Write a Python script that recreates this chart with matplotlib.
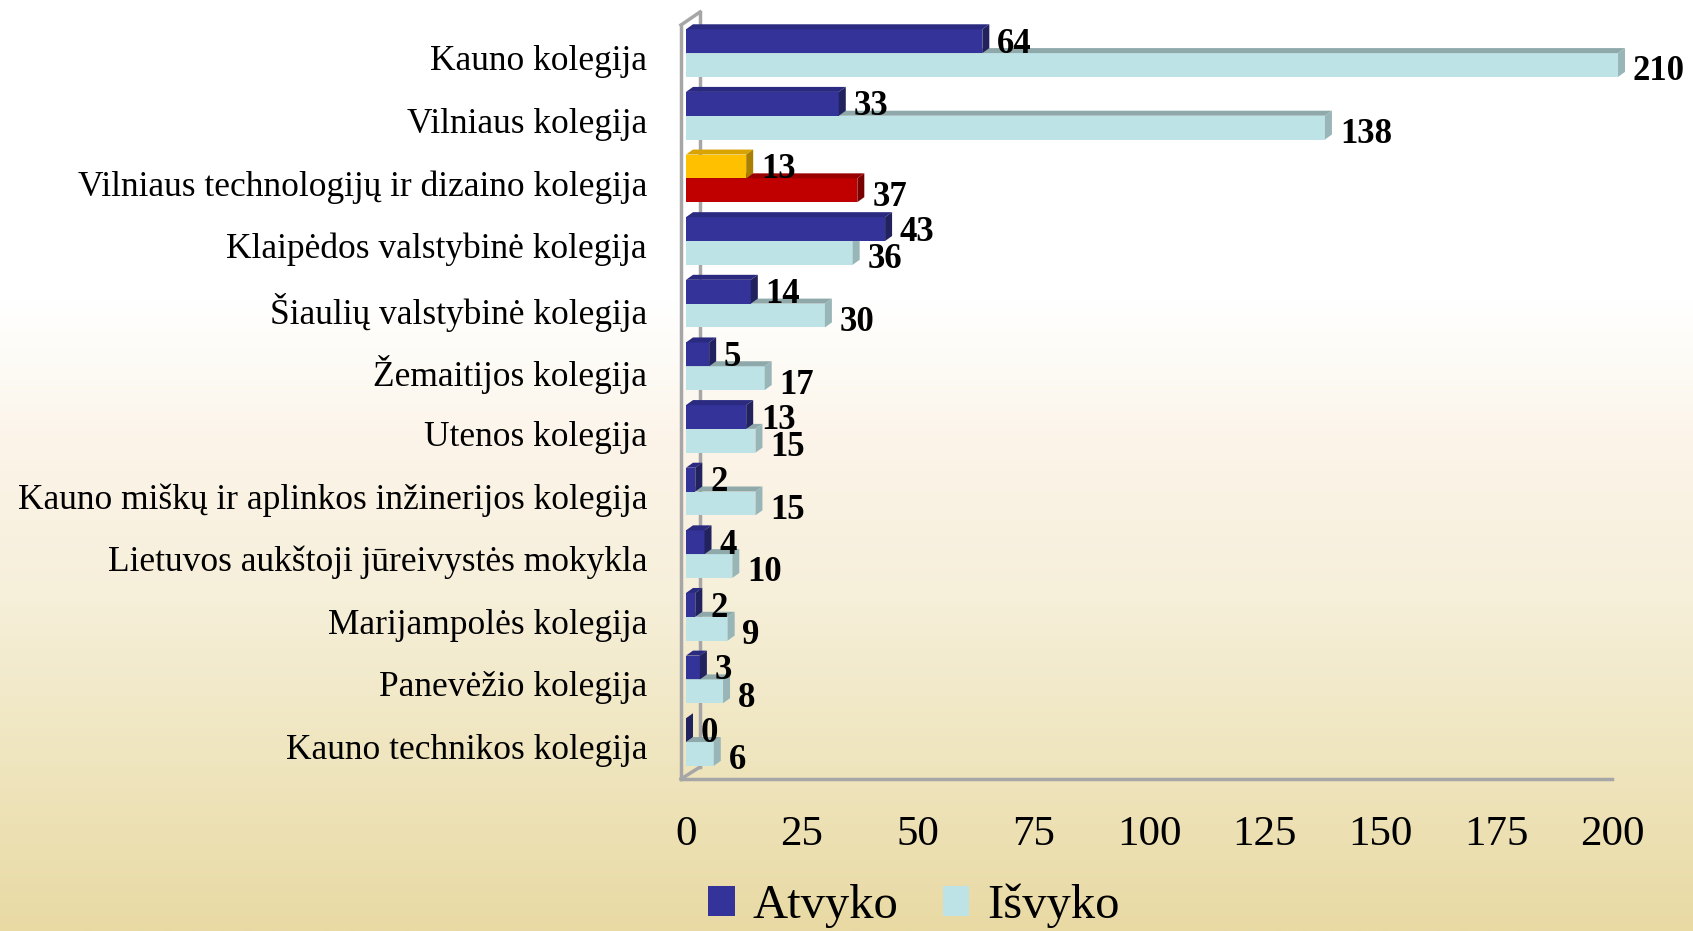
import numpy as np
import matplotlib.pyplot as plt
import matplotlib.transforms as mtransforms
from matplotlib.patches import Polygon, Patch

plt.rcParams['font.family'] = ['Liberation Serif', 'DejaVu Serif']

# Duomenys (iš viršaus į apačią)
kolegijos = [
    "Kauno kolegija",
    "Vilniaus kolegija",
    "Vilniaus technologijų ir dizaino kolegija",
    "Klaipėdos valstybinė kolegija",
    "Šiaulių valstybinė kolegija",
    "Žemaitijos kolegija",
    "Utenos kolegija",
    "Kauno miškų ir aplinkos inžinerijos kolegija",
    "Lietuvos aukštoji jūreivystės mokykla",
    "Marijampolės kolegija",
    "Panevėžio kolegija",
    "Kauno technikos kolegija",
]
atvyko = [64, 33, 13, 43, 14, 5, 13, 2, 4, 2, 3, 0]
isvyko = [210, 138, 37, 36, 30, 17, 15, 15, 10, 9, 8, 6]
x_ticks = list(range(0, 201, 25))
paryskinta = 2  # eilute, nupiesta kitomis spalvomis

# spalvos: (priekis, virsus, sonas)
sp_atv = ('#333399', '#2a2a80', '#22225e')
sp_isv = ('#bde3e6', '#8fa9ab', '#98b6b8')
sp_atv_h = ('#ffc000', '#d9a300', '#a87f00')
sp_isv_h = ('#c00000', '#9a0000', '#7a0000')

W, H = 1693, 931
fig = plt.figure(figsize=(W / 100, H / 100), dpi=100)

# fonas - vertikalus gradientas
bg = fig.add_axes([0, 0, 1, 1], zorder=-10)
st_y = np.array([0, 300, 380, 440, 600, 760, 931]) / H
st_c = np.array([[255, 255, 255], [255, 255, 255], [253, 250, 243], [252, 244, 233],
                 [246, 239, 217], [239, 229, 190], [233, 218, 164]]) / 255
yy = np.linspace(0, 1, H)
grad = np.stack([np.interp(yy, st_y, st_c[:, k]) for k in range(3)], axis=-1)[:, None, :]
bg.imshow(grad, aspect='auto', extent=(0, 1, 0, 1), interpolation='bilinear')
bg.set_xlim(0, 1)
bg.set_ylim(0, 1)
bg.axis('off')

# pagrindine asis
x0_px, x1_px, top_px, bot_px = 686, 1612, 13, 779
ax = fig.add_axes([x0_px / W, 1 - bot_px / H, (x1_px - x0_px) / W, (bot_px - top_px) / H])
ax.patch.set_alpha(0)
XMAX = 200
ax.set_xlim(0, XMAX)
ax.set_ylim(11.59, -0.64)
px_x = (x1_px - x0_px) / XMAX
px_y = 62.6
DX, DY = 7 / px_x, 5 / px_y
bar_h = 0.38
CAP = 201.3

n = len(kolegijos)
y = np.arange(n)


def faces(yc, w, top, side, z):
    y0 = yc - bar_h / 2
    y1 = yc + bar_h / 2
    ax.add_patch(Polygon([(0, y0), (w, y0), (w + DX, y0 - DY), (DX, y0 - DY)],
                         fc=top, ec='none', zorder=z, clip_on=False))
    ax.add_patch(Polygon([(w, y0), (w + DX, y0 - DY), (w + DX, y1 - DY), (w, y1)],
                         fc=side, ec='none', zorder=z, clip_on=False))


for serija, poslinkis, sp, sp_h, z, dy_lbl in [(isvyko, bar_h / 2, sp_isv, sp_isv_h, 3, 0.11),
                                               (atvyko, -bar_h / 2, sp_atv, sp_atv_h, 4, 0.05)]:
    plot = [min(v, CAP) for v in serija]
    spalvos = [sp_h if i == paryskinta else sp for i in range(n)]
    bars = ax.barh(y + poslinkis, plot, height=bar_h, color=[c[0] for c in spalvos],
                   zorder=z)
    for b in bars:
        b.set_clip_on(False)
    for i, v in enumerate(serija):
        faces(y[i] + poslinkis, plot[i], spalvos[i][1], spalvos[i][2], z)
        ax.text(plot[i] + 3.2, y[i] + poslinkis + dy_lbl, str(v), ha='left', va='center',
                fontsize=25, fontweight='bold', zorder=6, clip_on=False)

# 3D remas
ylo, yhi = ax.get_ylim()
fx = -5 / px_x
bx = 14 / px_x
wall_dy = 12 / px_y
gc = '#a6a6a6'
ax.plot([fx, XMAX], [ylo, ylo], color=gc, lw=2.5, clip_on=False, zorder=2)
ax.plot([fx, fx], [ylo, yhi + wall_dy], color=gc, lw=2.5, clip_on=False, zorder=2)
ax.plot([fx, bx], [yhi + wall_dy, yhi - 1 / px_y], color=gc, lw=2.5, clip_on=False, zorder=2)
ax.plot([bx, bx], [yhi - 1 / px_y, ylo - wall_dy], color=gc, lw=2.5, clip_on=False, zorder=1)
ax.plot([fx, bx], [ylo, ylo - wall_dy], color=gc, lw=2.5, clip_on=False, zorder=1)

ax.set_xticks(x_ticks)
ax.set_xticklabels([str(t) for t in x_ticks], fontsize=31)
ax.set_yticks(y)
ax.set_yticklabels(kolegijos, fontsize=25.5)
ax.tick_params(axis='x', length=0, pad=26)
ax.tick_params(axis='y', length=0, pad=28)
for s in ax.spines.values():
    s.set_visible(False)
nuleisti = mtransforms.ScaledTranslation(0, -4.5 / 100, fig.dpi_scale_trans)
for lbl in ax.get_yticklabels():
    lbl.set_transform(lbl.get_transform() + nuleisti)

fig.legend(handles=[Patch(fc=sp_atv[0]), Patch(fc=sp_isv[0])], labels=['Atvyko', 'Išvyko'],
           loc='center', bbox_to_anchor=(914 / W, 1 - 906 / H), ncol=2, frameon=False,
           fontsize=35, handlelength=0.55, handleheight=0.55, handletextpad=0.37,
           columnspacing=0.9, borderpad=0)

fig.savefig('out.png', dpi=100)
